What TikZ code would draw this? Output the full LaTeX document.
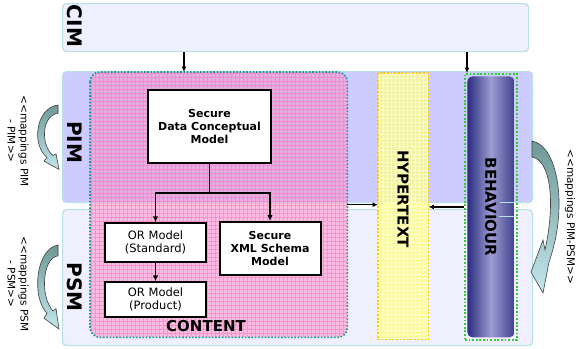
\documentclass[tikz,border=0pt]{standalone}
\usepackage{fontspec}
\usepackage{xcolor}
\usepackage{tikz}
\usetikzlibrary{arrows.meta,positioning,calc}
\newfontfamily\verd{DejaVu Sans}

\definecolor{layerline}{HTML}{B9E0E6}
\definecolor{cimfill}{HTML}{EFEFFD}
\definecolor{pimfill}{HTML}{CCCCFF}
\definecolor{contentfill}{HTML}{FF99CC}
\definecolor{contentgrid}{HTML}{FF70C0}
\definecolor{contentline}{HTML}{119999}
\definecolor{hyperfill}{HTML}{FFFF88}
\definecolor{hypergrid}{HTML}{FFFFD8}
\definecolor{hyperline}{HTML}{FFCC00}
\definecolor{behdark}{HTML}{2B2D80}
\definecolor{behlight}{HTML}{9D9DD2}
\definecolor{behline}{HTML}{33CC33}
\definecolor{mapdark}{HTML}{6E9898}
\definecolor{maplight}{HTML}{C2E6EC}

\tikzset{
  maparrow/.pic={
    \draw[draw=black!75,line width=0.6pt,top color=mapdark,bottom color=maplight]
      (0,0) .. controls (-22,3) and (-27,43) .. (-11,57)
      -- (-14,61) -- (1,70) -- (-2,53) -- (-5,55)
      .. controls (-18,43) and (-16,11) .. (0,9) -- cycle;
  }
}

\begin{document}
\begin{tikzpicture}[x=1pt,y=-1pt, every node/.style={font=\verd},
  layer/.style={draw=layerline,line width=1.2pt,rounded corners=4pt,anchor=north west,inner sep=0pt},
  layertitle/.style={rotate=-90,font=\verd\bfseries\fontsize{20}{22}\selectfont},
  model/.style={draw,fill=white,line width=2pt,align=center,inner sep=1pt,font=\verd\bfseries\fontsize{11}{13}\selectfont},
  ormodel/.style={draw,fill=white,line width=1.2pt,align=center,inner sep=1pt,minimum width=101pt,font=\verd\fontsize{11.5}{13.5}\selectfont},
  band/.style={rotate=-90,font=\verd\bfseries\fontsize{15}{17}\selectfont},
  maptext/.style={rotate=-90,align=center,font=\verd\fontsize{10.5}{13}\selectfont},
  flow/.style={line width=1.6pt,-{Latex[length=6pt,width=5.5pt]}},
  feed/.style={line width=1.2pt,-{Latex[length=5.5pt,width=5pt]}}]

\useasboundingbox[fill=white] (0,0) rectangle (578,348);

% layers
\node[layer,fill=cimfill,minimum width=466pt,minimum height=48pt] (cim) at (62,3) {};
\node[layer,fill=pimfill,minimum width=470pt,minimum height=131pt] (pim) at (62,71) {};
\node[layer,fill=cimfill,minimum width=470pt,minimum height=136pt] (psm) at (62,209) {};
\node[layertitle] (cimT) at (75,26) {CIM};
\node[layertitle] (pimT) at (75,142) {PIM};
\node[layertitle] (psmT) at (75,287) {PSM};

% content, hypertext and behaviour bands
\node[anchor=north west,fill=contentfill,fill opacity=0.58,rounded corners=10pt,
  minimum width=257pt,minimum height=265pt,
  path picture={\draw[contentgrid,line width=0.35pt,draw opacity=0.55,step=4pt]
    (path picture bounding box.south west) grid (path picture bounding box.north east);}] (content) at (90,72) {};
\draw[contentline,line width=1.6pt,dash pattern=on 1.6pt off 1.7pt,rounded corners=10pt]
  (content.north west) rectangle (content.south east);

\node[anchor=north west,fill=hyperfill,fill opacity=0.75,minimum width=50pt,minimum height=266pt,
  path picture={\draw[hypergrid,line width=0.4pt,draw opacity=0.8,step=4pt]
    (path picture bounding box.south west) grid (path picture bounding box.north east);}] (hyp) at (378,73) {};
\draw[hyperline,line width=1.8pt,dash pattern=on 1.8pt off 1.8pt]
  (hyp.north west) rectangle (hyp.south east);
\node[band] (hypT) at (403,199) {HYPERTEXT};

\node[anchor=north west,draw=behline,line width=1.8pt,dash pattern=on 1.8pt off 1.8pt,
  minimum width=52pt,minimum height=266pt] (beh) at (464,73) {};
\node[left color=behdark,right color=behdark!90!white,middle color=behlight,rounded corners=5pt,
  minimum width=47pt,minimum height=261pt] (bar) at (beh.center) {};
\draw[layerline,line width=1pt] (500,202) -- (516,202) (499,216) -- (516,216);
\node[band] (behT) at (bar.center) {BEHAVIOUR};

% models
\node[model,minimum width=123pt,minimum height=73pt] (sdcm) at (209.5,126.5) {Secure\\Data Conceptual\\Model};
\node[ormodel,minimum height=39pt] (std) at (155.5,242.5) {OR Model\\(Standard)};
\node[ormodel,minimum height=35pt] (prod) at (155.5,299.5) {OR Model\\(Product)};
\node[model,minimum width=101pt,minimum height=53pt] (xml) at (270,248.5) {Secure\\XML Schema\\Model};
\node[font=\verd\bfseries\fontsize{15}{17}\selectfont] (contT) at (206,326) {CONTENT};

\coordinate (split) at (209.5,193);
\draw[line width=1.6pt] (sdcm) -- (split);
\draw[flow] (split) -| (std);
\draw[flow] (split) -| (xml);
\draw[flow] (std) -- (prod);

% flows between bands
\coordinate (toC) at (184,72);
\coordinate (toB) at (467,73);
\draw[feed] (cim.south -| toC) -- (toC);
\draw[feed] (cim.south -| toB) -- (toB);
\draw[feed] (content.east) -- (content.east -| hyp.west);
\draw[feed] (beh.west) -- (beh.west -| hyp.east);

% mappings
\pic[yscale=0.92] at (58,105) {maparrow};
\pic[yscale=1.2] at (58,245) {maparrow};
\draw[draw=black!75,line width=0.6pt,top color=mapdark,bottom color=maplight]
  (532,141) .. controls (557,145) and (569,205) .. (549,262)
  -- (543,293) -- (531,272) -- (543,240) -- (545,250)
  .. controls (556,200) and (550,160) .. (532,157) -- cycle;
\node[maptext] (mapPim) at (18,141) {<<mappings PIM\\- PIM>>};
\node[maptext] (mapPsm) at (18,284) {<<mappings PSM\\- PSM>>};
\node[maptext] (mapPimPsm) at (570,217) {<<mappings PIM-PSM>>};
\end{tikzpicture}
\end{document}
